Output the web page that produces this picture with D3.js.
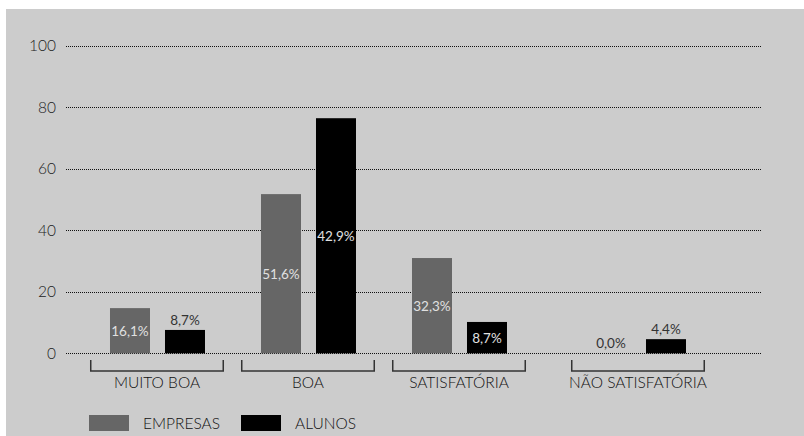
<!DOCTYPE html>
<html><head><meta charset="utf-8">
<script src="https://cdn.jsdelivr.net/npm/d3@7"></script>
<style>html,body{margin:0;padding:0;background:#fff;}svg{display:block;}</style>
</head><body>
<svg id="c" width="804" height="436"></svg>
<script>
const categories = ["MUITO BOA", "BOA", "SATISFATÓRIA", "NÃO SATISFATÓRIA"];
const seriesNames = ["EMPRESAS", "ALUNOS"];
const empresasBars = [14.7, 51.8, 31.0, 0];
const alunosBars = [7.6, 76.5, 10.2, 4.6];
const empresasLabels = ["16,1%", "51,6%", "32,3%", "0,0%"];
const alunosLabels = ["8,7%", "42,9%", "8,7%", "4,4%"];
const yTicks = [0, 20, 40, 60, 80, 100];
const colors = {EMPRESAS: "#666666", ALUNOS: "#000000"};
const groupShift = [0, 0, 0, 28];

const font = "Lato, 'Open Sans', sans-serif";
const fw = 300;
const svg = d3.select("#c");
svg.append("rect").attr("x", 6).attr("y", 9).attr("width", 798).attr("height", 427).attr("fill", "#cccccc");

const y = d3.scaleLinear().domain([0, 100]).range([353.3, 46]);
const x = d3.scaleBand().domain(categories).range([81.5, 685.5]).paddingInner(0.1125).paddingOuter(0.05625);
const xi = d3.scaleBand().domain(seriesNames).range([20, 115]).paddingInner(15 / 55);
const gx = (c, i) => x(c) + groupShift[i];

// grid
const yAxis = d3.axisLeft(y).tickValues(yTicks).tickSize(-(762 - 66)).tickPadding(10).tickFormat(d3.format("d"));
const ga = svg.append("g").attr("transform", "translate(66,0)").call(yAxis);
ga.select(".domain").remove();
ga.selectAll(".tick line").attr("stroke", "#111").attr("stroke-dasharray", "1,1").attr("shape-rendering", "crispEdges");
ga.selectAll(".tick text").attr("font-family", font).attr("font-weight", fw).attr("font-size", 15.5).attr("fill", "#222").attr("x", -10);

const data = categories.map((c, i) => ({
  c, i,
  vals: [
    {s: "EMPRESAS", v: empresasBars[i], l: empresasLabels[i]},
    {s: "ALUNOS", v: alunosBars[i], l: alunosLabels[i]}
  ]
}));

const g = svg.selectAll("g.grp").data(data).join("g").attr("class", "grp")
  .attr("transform", d => `translate(${gx(d.c, d.i)},0)`);

g.selectAll("rect").data(d => d.vals).join("rect")
  .attr("x", d => xi(d.s)).attr("width", xi.bandwidth())
  .attr("y", d => y(d.v)).attr("height", d => y(0) - y(d.v))
  .attr("fill", d => colors[d.s]);

g.selectAll("text.lbl").data(d => d.vals).join("text").attr("class", "lbl")
  .attr("x", d => xi(d.s) + xi.bandwidth() / 2)
  .attr("y", d => {
    const h = y(0) - y(d.v);
    return h < 25 ? y(d.v) - 5 : (y(d.v) + y(0)) / 2 + 5;
  })
  .attr("text-anchor", "middle")
  .attr("font-family", font).attr("font-weight", 400).attr("font-size", 13.5)
  .attr("fill", d => (y(0) - y(d.v)) < 25 ? "#333" : "#e0e0e0")
  .text(d => d.l);

// brackets
g.append("path")
  .attr("d", `M0.75,360 V371 H${x.bandwidth() - 0.75} V360`)
  .attr("fill", "none").attr("stroke", "#333").attr("stroke-width", 1.5);
g.append("text")
  .attr("x", x.bandwidth() / 2).attr("y", 388)
  .attr("text-anchor", "middle").attr("font-family", font).attr("font-weight", fw).attr("font-size", 15.5).attr("fill", "#111")
  .text(d => d.c);

// legend
const lg = svg.selectAll("g.leg").data(seriesNames).join("g").attr("class", "leg")
  .attr("transform", (d, i) => `translate(${89 + i * 152},415)`);
lg.append("rect").attr("width", 40).attr("height", 16).attr("fill", d => colors[d]);
lg.append("text").attr("x", 54).attr("y", 13.5).attr("font-family", font).attr("font-weight", fw).attr("font-size", 15.5).attr("fill", "#111").text(d => d);
</script>
</body></html>
